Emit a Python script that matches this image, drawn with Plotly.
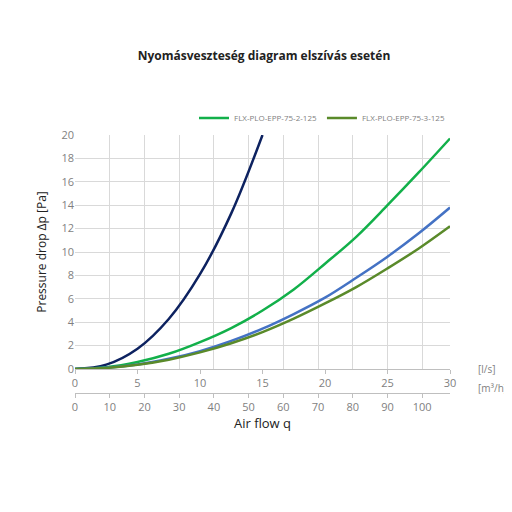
import plotly.graph_objects as go

q_ls = [0, 2.5, 5, 7.5, 10, 12.5, 15, 17.5, 20, 22.5, 25, 27.5, 30]
navy = [0, 0.37, 1.73, 4.27, 8.1, 13.3, 20.0]
green = [0, 0.15, 0.6, 1.3, 2.3, 3.5, 5.0, 6.8, 9.0, 11.3, 14.0, 16.8, 19.7]
blue = [0, 0.1, 0.38, 0.87, 1.53, 2.4, 3.45, 4.7, 6.1, 7.8, 9.6, 11.6, 13.8]
olive = [0, 0.09, 0.36, 0.8, 1.42, 2.2, 3.15, 4.3, 5.6, 7.0, 8.6, 10.3, 12.2]
yticks = [0, 2, 4, 6, 8, 10, 12, 14, 16, 18, 20]
x1ticks = [0, 5, 10, 15, 20, 25, 30]
x2ticks = [0, 10, 20, 30, 40, 50, 60, 70, 80, 90, 100]

fig = go.Figure()
fig.add_trace(go.Scatter(x=q_ls[:len(navy)], y=navy, mode="lines", line=dict(color="#0d2260", width=2.5, shape="spline"), showlegend=False))
fig.add_trace(go.Scatter(x=q_ls, y=green, mode="lines", name="FLX-PLO-EPP-75-2-125", line=dict(color="#12b04a", width=2.5, shape="spline")))
fig.add_trace(go.Scatter(x=q_ls, y=blue, mode="lines", line=dict(color="#4472c4", width=2.5, shape="spline"), showlegend=False))
fig.add_trace(go.Scatter(x=q_ls, y=olive, mode="lines", name="FLX-PLO-EPP-75-3-125", line=dict(color="#5a8a2a", width=2.5, shape="spline")))
fig.add_trace(go.Scatter(x=[0, 108], y=[None, None], xaxis="x2", showlegend=False, hoverinfo="skip"))

gray = "#bfbfbf"
fig.update_layout(
    width=512, height=512, plot_bgcolor="white", paper_bgcolor="white",
    margin=dict(l=67, r=70, t=127, b=127, autoexpand=False),
    font=dict(family="Open Sans", color="#7f7f7f", size=11),
    title=dict(text="<b>Nyomásveszteség diagram elszívás esetén</b>", x=0.5, y=0.915, xanchor="center",
               font=dict(size=12, color="#222", family="Open Sans")),
    xaxis=dict(range=[0, 30], tickvals=x1ticks, showgrid=False, showline=True, linecolor=gray,
               ticks="outside", tickcolor=gray, ticklen=4, zeroline=False, automargin=False),
    xaxis2=dict(range=[0, 108], overlaying="x", anchor="free", position=0, tickvals=x2ticks,
                showgrid=True, gridcolor="#d9d9d9", showline=True, linecolor=gray,
                ticks="outside", tickcolor=gray, ticklen=4, side="bottom", zeroline=False, automargin=False,
                title=dict(text="Air flow q", font=dict(size=13, color="#222"), standoff=0)),
    yaxis=dict(range=[0, 20], tickvals=yticks, domain=[0.093, 1], showgrid=True, gridcolor="#d9d9d9",
               zeroline=False, showline=False, automargin=False,
               title=dict(text="Pressure drop Δp [Pa]", font=dict(size=12, color="#222"), standoff=12)),
    legend=dict(orientation="h", x=1, xanchor="right", y=1.01, yanchor="bottom",
                font=dict(size=8, color="#7f7f7f"), bgcolor="rgba(0,0,0,0)"),
)
fig.add_annotation(text="[l/s]", x=1.07, xref="paper", y=0.093, yref="paper", showarrow=False,
                   xanchor="left", yanchor="middle", font=dict(size=10, color="#7f7f7f"))
fig.add_annotation(text="[m³/h]", x=1.07, xref="paper", y=0.093, yref="paper", showarrow=False,
                   xanchor="left", yanchor="middle", yshift=-19, font=dict(size=10, color="#7f7f7f"))
fig.write_html("out.html")
